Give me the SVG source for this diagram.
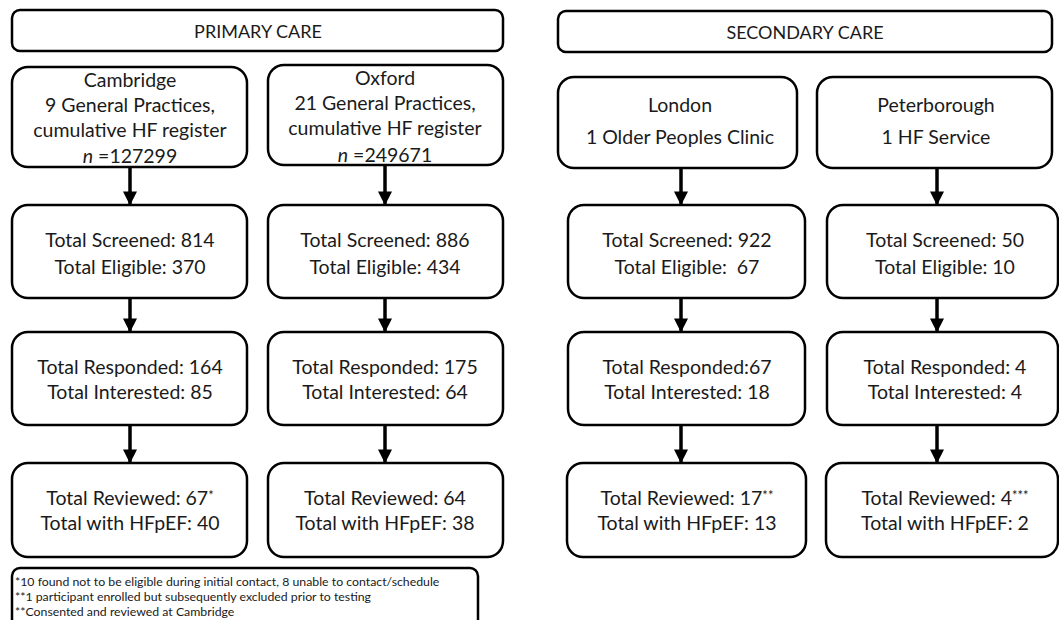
<svg xmlns="http://www.w3.org/2000/svg" width="1059" height="620" viewBox="0 0 1059 620">
<style>
.box{fill:#fff;stroke:#000;stroke-width:2.5}
.t{font-family:Lato,"Liberation Sans",sans-serif;font-size:19.5px;fill:#1a1a1a;text-anchor:middle}
.h{font-family:Lato,"Liberation Sans",sans-serif;font-size:18px;fill:#1a1a1a;text-anchor:middle}
.f{font-family:Lato,"Liberation Sans",sans-serif;font-size:12.3px;fill:#1a1a1a}
.c{stroke:#000;stroke-width:3.5;fill:none}
.sup{font-size:13px}
</style>
<defs>
<marker id="ah" markerWidth="4" markerHeight="4" refX="3.6" refY="2" orient="auto" markerUnits="strokeWidth">
<path d="M0,0 L4,2 L0,4 Z" fill="#000"/>
</marker>
</defs>
<rect width="1059" height="620" fill="#fff"/>
<g id="primary-header"><rect class="box" x="12" y="10" width="491" height="41" rx="8"/><text class="h" x="258" y="38">PRIMARY CARE</text></g>
<g id="secondary-header"><rect class="box" x="558" y="11" width="494" height="41" rx="8"/><text class="h" x="805" y="39">SECONDARY CARE</text></g>
<g id="cambridge"><rect class="box" x="12" y="67" width="235" height="100" rx="16"/>
<text class="t" x="130" y="87">Cambridge</text><text class="t" x="130" y="112">9 General Practices,</text><text class="t" x="130" y="137">cumulative HF register</text><text class="t" x="130" y="163"><tspan font-style="italic">n</tspan> =127299</text></g>
<g id="oxford"><rect class="box" x="268" y="65" width="235" height="100" rx="16"/>
<text class="t" x="385" y="85">Oxford</text><text class="t" x="385" y="110">21 General Practices,</text><text class="t" x="385" y="135">cumulative HF register</text><text class="t" x="385" y="162"><tspan font-style="italic">n</tspan> =249671</text></g>
<g id="london"><rect class="box" x="558" y="77" width="239" height="91" rx="16"/>
<text class="t" x="680" y="112">London</text><text class="t" x="680" y="144">1 Older Peoples Clinic</text></g>
<g id="peterborough"><rect class="box" x="817" y="77" width="235" height="91" rx="16"/>
<text class="t" x="936" y="112">Peterborough</text><text class="t" x="936" y="144">1 HF Service</text></g>
<g id="cam-screened"><rect class="box" x="12" y="205" width="235" height="93" rx="16"/><text class="t" x="130" y="247">Total Screened: 814</text><text class="t" x="130" y="274">Total Eligible: 370</text></g>
<g id="ox-screened"><rect class="box" x="268" y="205" width="235" height="93" rx="16"/><text class="t" x="385" y="247">Total Screened: 886</text><text class="t" x="385" y="274">Total Eligible: 434</text></g>
<g id="lon-screened"><rect class="box" x="568" y="205" width="237" height="93" rx="16"/><text class="t" x="687" y="247">Total Screened: 922</text><text class="t" x="687" y="274">Total Eligible:&#160; 67</text></g>
<g id="pet-screened"><rect class="box" x="827" y="205" width="231" height="93" rx="16"/><text class="t" x="945" y="247">Total Screened: 50</text><text class="t" x="945" y="274">Total Eligible: 10</text></g>
<g id="cam-responded"><rect class="box" x="12" y="332" width="235" height="93" rx="16"/><text class="t" x="130" y="374">Total Responded: 164</text><text class="t" x="130" y="399">Total Interested: 85</text></g>
<g id="ox-responded"><rect class="box" x="268" y="332" width="235" height="93" rx="16"/><text class="t" x="385" y="374">Total Responded: 175</text><text class="t" x="385" y="399">Total Interested: 64</text></g>
<g id="lon-responded"><rect class="box" x="568" y="332" width="237" height="93" rx="16"/><text class="t" x="687" y="374">Total Responded:67</text><text class="t" x="687" y="399">Total Interested: 18</text></g>
<g id="pet-responded"><rect class="box" x="827" y="332" width="231" height="93" rx="16"/><text class="t" x="945" y="374">Total Responded: 4</text><text class="t" x="945" y="399">Total Interested: 4</text></g>
<g id="cam-reviewed"><rect class="box" x="12" y="463" width="235" height="94" rx="16"/><text class="t" x="130" y="505">Total Reviewed: 67<tspan class="sup" dy="-5">*</tspan></text><text class="t" x="130" y="530">Total with HFpEF: 40</text></g>
<g id="ox-reviewed"><rect class="box" x="268" y="463" width="235" height="94" rx="16"/><text class="t" x="385" y="505">Total Reviewed: 64</text><text class="t" x="385" y="530">Total with HFpEF: 38</text></g>
<g id="lon-reviewed"><rect class="box" x="567" y="463" width="239" height="94" rx="16"/><text class="t" x="687" y="505">Total Reviewed: 17<tspan class="sup" dy="-5">**</tspan></text><text class="t" x="687" y="530">Total with HFpEF: 13</text></g>
<g id="pet-reviewed"><rect class="box" x="826" y="463" width="232" height="94" rx="16"/><text class="t" x="945" y="505">Total Reviewed: 4<tspan class="sup" dy="-5">***</tspan></text><text class="t" x="945" y="530">Total with HFpEF: 2</text></g>
<g id="footnotes"><rect class="box" x="12" y="568" width="466" height="60" rx="8"/>
<text class="f" x="15" y="586">*10 found not to be eligible during initial contact, 8 unable to contact/schedule</text>
<text class="f" x="15" y="601">**1 participant enrolled but subsequently excluded prior to testing</text>
<text class="f" x="15" y="616">**Consented and reviewed at Cambridge</text></g>
<g id="connectors">
<line class="c" x1="130" y1="167" x2="130" y2="204" marker-end="url(#ah)"/>
<line class="c" x1="385" y1="165" x2="385" y2="204" marker-end="url(#ah)"/>
<line class="c" x1="681" y1="168" x2="681" y2="204" marker-end="url(#ah)"/>
<line class="c" x1="937" y1="168" x2="937" y2="204" marker-end="url(#ah)"/>
<line class="c" x1="130" y1="298" x2="130" y2="331" marker-end="url(#ah)"/>
<line class="c" x1="385" y1="298" x2="385" y2="331" marker-end="url(#ah)"/>
<line class="c" x1="681" y1="298" x2="681" y2="331" marker-end="url(#ah)"/>
<line class="c" x1="937" y1="298" x2="937" y2="331" marker-end="url(#ah)"/>
<line class="c" x1="130" y1="425" x2="130" y2="462" marker-end="url(#ah)"/>
<line class="c" x1="385" y1="425" x2="385" y2="462" marker-end="url(#ah)"/>
<line class="c" x1="681" y1="425" x2="681" y2="462" marker-end="url(#ah)"/>
<line class="c" x1="937" y1="425" x2="937" y2="462" marker-end="url(#ah)"/>
</g>
</svg>
